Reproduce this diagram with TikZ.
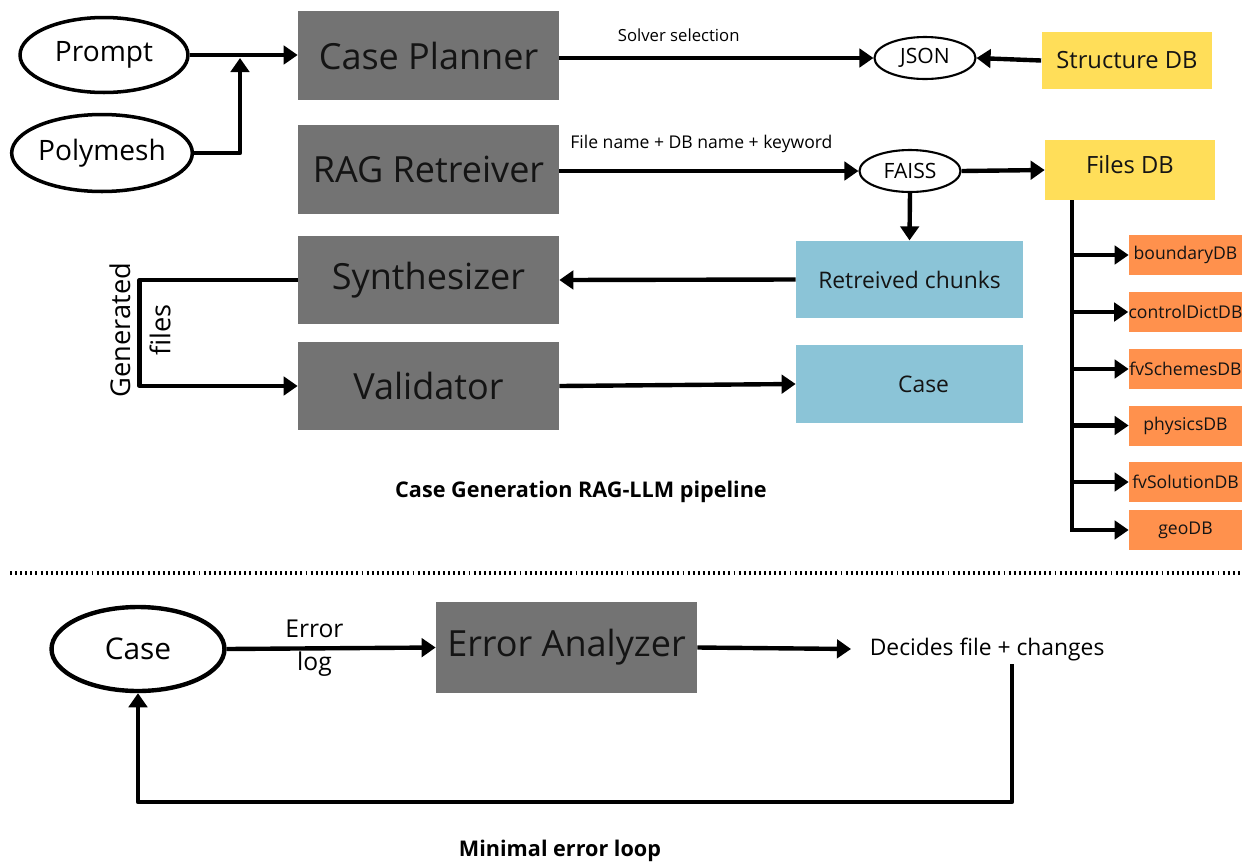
\documentclass[tikz,border=0pt]{standalone}
\usepackage{fontspec}
\setmainfont{Open Sans}
\usetikzlibrary{shapes.geometric,arrows.meta,positioning}
\definecolor{stagegray}{HTML}{737373}
\definecolor{chunkblue}{HTML}{8BC4D7}
\definecolor{dbyellow}{HTML}{FFDE59}
\definecolor{dborange}{HTML}{FF914D}
\definecolor{inktext}{HTML}{141414}
\tikzset{
	flow/.style={line width=2.5pt, ->},
	stage/.style={fill=stagegray, text=inktext, inner sep=0pt, minimum width=5.22cm, minimum height=1.78cm, font=\fontsize{20.5}{22}\selectfont},
	blob/.style={ellipse, draw, line width=2pt, inner sep=0pt, font=\fontsize{16}{18}\selectfont},
	smallblob/.style={ellipse, draw, line width=1.2pt, inner sep=0pt, minimum width=2.02cm, minimum height=0.84cm, font=\fontsize{12}{14}\selectfont},
	chunkbox/.style={fill=chunkblue, text=inktext, inner sep=0pt, minimum width=4.54cm, minimum height=1.55cm, font=\fontsize{13}{15}\selectfont},
	storebox/.style={fill=dbyellow, text=inktext, inner sep=0pt, minimum width=3.42cm, minimum height=1.15cm, font=\fontsize{13.5}{15}\selectfont},
	dbbox/.style={fill=dborange, text=inktext, inner sep=0pt, minimum width=2.26cm, minimum height=0.8cm, font=\fontsize{10}{12}\selectfont},
	caption/.style={font=\bfseries\fontsize{12.3}{14}\selectfont},
}
\begin{document}
\begin{tikzpicture}[x=0.02cm, y=-0.02cm, line join=round, >={Triangle[length=8pt, width=10.5pt]}]
	\useasboundingbox (0,0) rectangle (1242,863);
	% upper part: case generation
	\node[blob, minimum width=3.36cm, minimum height=1.5cm] (prompt) at (104,55) {Prompt};
	\node[blob, minimum width=3.52cm, minimum height=1.54cm] (poly) at (102,153) {Polymesh};
	\node[stage] (planner) at (428.5,55.5) {Case Planner};
	\node[stage] (rag) at (428.5,169.5) {RAG Retreiver};
	\node[stage] (synth) at (428.5,280) {Synthesizer};
	\node[stage] (valid) at (428.5,386) {Validator};
	\node[smallblob] (json) at (925,58) {JSON};
	\node[smallblob] (faiss) at (910,171) {FAISS};
	\node[storebox] (structdb) at (1127,60.5) {Structure DB};
	\node[storebox, minimum width=3.4cm, minimum height=1.2cm] (filesdb) at (1130,170) {\raisebox{6pt}{Files DB}};
	\node[chunkbox] (chunks) at (909.5,279.5) {Retreived chunks};
	\node[chunkbox] (case) at (909.5,384) {\hspace*{16pt}Case};
	\foreach \n/\y/\t in {bdb/255/boundaryDB, cdb/312/controlDictDB, sdb/369/fvSchemesDB, pdb/425.5/physicsDB, vdb/482/fvSolutionDB, gdb/530/geoDB}{
		\node[dbbox] (\n) at (1185.5,\y) {\t};
	}
	\coordinate (join) at (240,58);
	\coordinate (bustop) at (1072,200);
	\coordinate (busbot) at (1072,532);

	\draw[flow] (prompt.east) -- (prompt.east -| planner.west);
	\draw[flow] (poly.east) -| (join);
	\draw[flow] (json.west -| planner.east) -- node[pos=.38, above=5pt, font=\fontsize{9.5}{11}\selectfont] {Solver selection} (json.west);
	\draw[flow] (structdb.west) -- (json.east);
	\draw[flow] (faiss.west -| rag.east) -- node[pos=.475, above=6pt, font=\fontsize{10}{12}\selectfont] {File name + DB name + keyword} (faiss.west);
	\draw[flow] (faiss.east) -- (filesdb.west);
	\draw[flow] (faiss.south) -- (chunks.north);
	\draw[flow] (chunks.west) -- (synth.east);
	\draw[flow] (synth.west) -- ++(-158,0) |- (valid.west);
	\draw[flow] (valid.east) -- (case.west);
	\draw[line width=2.5pt] (bustop) -- (busbot);
	\foreach \n in {bdb,cdb,sdb,pdb,vdb,gdb}{
		\draw[flow] (bustop |- \n.west) -- (\n.west);
	}
	\node[rotate=90, align=center, font=\fontsize{15.5}{23}\selectfont] (genfiles) at (140,330) {Generated\\files};
	\node[caption] (title1) at (581,492) {Case Generation RAG-LLM pipeline};

	% separator
	\draw[line width=2.4pt, dash pattern=on 1.1pt off 1.8pt] (10,573) -- (1242,573);

	% lower part: error loop
	\node[blob, line width=2.5pt, minimum width=3.46cm, minimum height=1.68cm, font=\fontsize{17}{19}\selectfont] (errcase) at (138,649) {Case};
	\node[stage, minimum height=1.82cm] (analyzer) at (566.5,647.5) {Error Analyzer};
	\node[right, inner xsep=10.5pt, font=\fontsize{13}{15}\selectfont] (decides) at (851,649) {Decides file + changes};
	\coordinate (fbtop) at (1012,664);
	\coordinate (fbbot) at (1012,802);
	\draw[flow] (errcase.east) -- node[pos=.42, align=center, font=\fontsize{14}{19}\selectfont] {Error\\log} (analyzer.west);
	\draw[flow] (analyzer.east) -- (decides.west);
	\draw[flow] (fbtop) -- (fbbot) -| (errcase.south);
	\node[caption] (title2) at (560,851) {Minimal error loop};
\end{tikzpicture}
\end{document}
